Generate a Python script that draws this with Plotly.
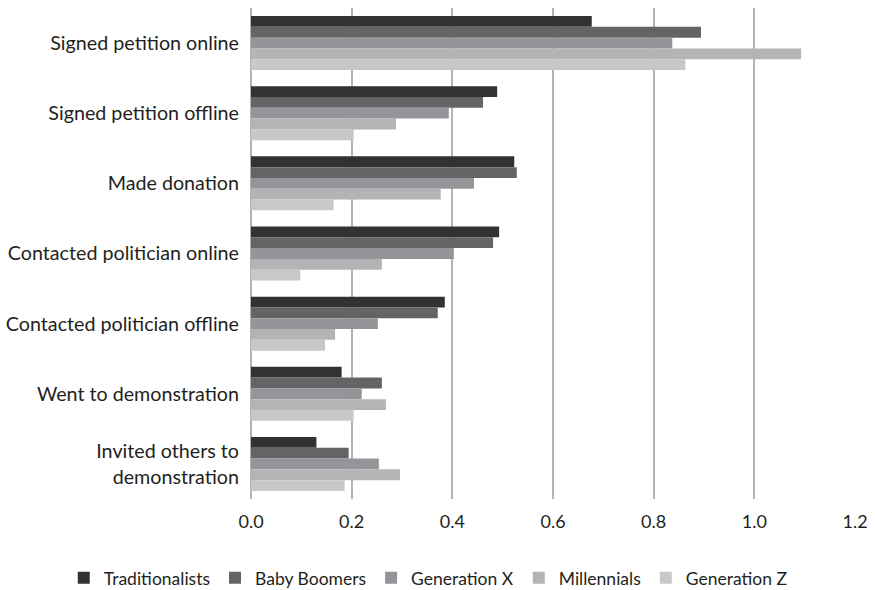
import plotly.graph_objects as go

categories = [
    "Signed petition online",
    "Signed petition offline",
    "Made donation",
    "Contacted politician online",
    "Contacted politician offline",
    "Went to demonstration",
    "Invited others to<br>demonstration",
]
series_names = ["Traditionalists", "Baby Boomers", "Generation X", "Millennials", "Generation Z"]
traditionalists = [0.677, 0.489, 0.523, 0.493, 0.385, 0.180, 0.130]
baby_boomers = [0.894, 0.461, 0.528, 0.481, 0.371, 0.260, 0.194]
generation_x = [0.837, 0.393, 0.443, 0.403, 0.252, 0.220, 0.254]
millennials = [1.093, 0.288, 0.377, 0.260, 0.167, 0.268, 0.296]
generation_z = [0.863, 0.204, 0.164, 0.098, 0.147, 0.204, 0.186]
tick_vals = [0.0, 0.2, 0.4, 0.6, 0.8, 1.0, 1.2]

colors = ["#333132", "#636466", "#939598", "#b3b4b6", "#c7c8ca"]
values = [traditionalists, baby_boomers, generation_x, millennials, generation_z]

fig = go.Figure()
for name, vals, c in zip(series_names, values, colors):
    fig.add_trace(go.Bar(y=categories, x=vals, name=name, orientation="h",
                         marker=dict(color=c, line=dict(width=0))))

font_family = "Lato, 'Open Sans', sans-serif"
fig.update_layout(
    width=875, height=590,
    margin=dict(l=251, r=20, t=8, b=91, autoexpand=False),
    barmode="group", bargap=0.23, bargroupgap=0,
    plot_bgcolor="white", paper_bgcolor="white",
    font=dict(family=font_family, size=19, color="#231f20"),
    showlegend=True,
    legend=dict(orientation="h", xref="paper", yref="paper",
                x=-0.31, xanchor="left", y=-0.124, yanchor="top",
                font=dict(size=17.5, color="#231f20"), traceorder="normal",
                itemwidth=30, tracegroupgap=0, bgcolor="rgba(0,0,0,0)"),
    xaxis=dict(range=[0, 1.2], tickvals=tick_vals, tickformat=".1f",
               showgrid=True, gridcolor="#b3b3b3", gridwidth=1.5,
               zeroline=True, zerolinecolor="#b3b3b3", zerolinewidth=1.5,
               showline=False, ticks="", ticklen=0, ticklabelstandoff=10,
               automargin=False, tickfont=dict(size=18)),
    yaxis=dict(autorange="reversed", showgrid=False, zeroline=False,
               showline=False, ticks="", ticklabelstandoff=11,
               automargin=False, tickfont=dict(size=19.7)),
)
fig.write_html("out.html", config={"displayModeBar": False},
               post_script="document.body.style.margin='0';document.body.style.padding='0';")
